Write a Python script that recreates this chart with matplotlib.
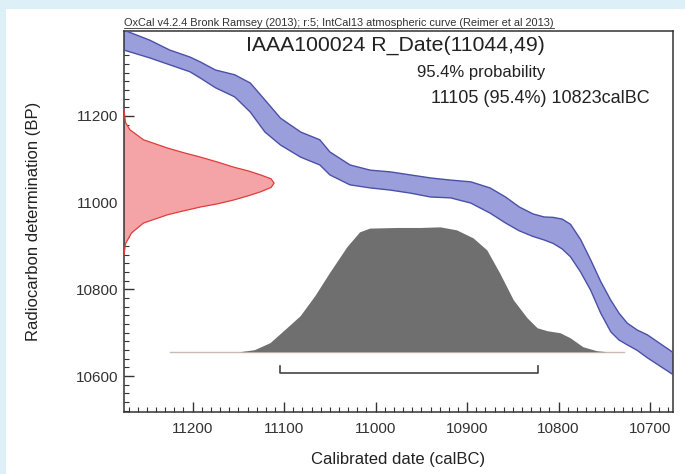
import matplotlib.pyplot as plt
from matplotlib.patches import Rectangle
from matplotlib.lines import Line2D
from matplotlib.ticker import MultipleLocator

plt.rcParams['font.family'] = ['Liberation Sans', 'DejaVu Sans']

# calibration curve (IntCal13), cal BC vs BP upper / lower edge
cal_x = [11275, 11247, 11225, 11203, 11192, 11175, 11154, 11137, 11121, 11104,
         11082, 11061, 11050, 11028, 11006, 10984, 10962, 10940, 10918, 10896,
         10875, 10858, 10843, 10828, 10816, 10806, 10796, 10787, 10776, 10765,
         10754, 10743, 10734, 10725, 10714, 10703, 10674]
cal_hi = [11398, 11375, 11352, 11336, 11325, 11306, 11295, 11276, 11237, 11195,
          11163, 11145, 11117, 11087, 11075, 11071, 11064, 11057, 11052, 11048,
          11034, 11013, 10990, 10974, 10967, 10966, 10962, 10950, 10915, 10868,
          10818, 10775, 10745, 10722, 10706, 10695, 10653]
cal_lo = [11352, 11334, 11318, 11302, 11288, 11265, 11244, 11209, 11163, 11133,
          11105, 11087, 11064, 11041, 11034, 11029, 11022, 11013, 11011, 10999,
          10976, 10953, 10935, 10922, 10914, 10906, 10893, 10875, 10840, 10798,
          10745, 10702, 10683, 10672, 10659, 10642, 10602]

# radiocarbon measurement R_Date(11044,49), relative probability
bp_vals = [11215, 11185, 11168, 11145, 11126, 11115, 11105, 11094, 11082, 11073,
           11064, 11055, 11045, 11035, 11025, 11016, 11006, 10997, 10990, 10978,
           10972, 10953, 10930, 10905, 10880]
bp_prob = [0, 0.01, 0.04, 0.13, 0.29, 0.40, 0.51, 0.62, 0.73, 0.83,
           0.91, 0.98, 1.0, 0.98, 0.91, 0.83, 0.73, 0.62, 0.51, 0.36,
           0.29, 0.13, 0.05, 0.01, 0]

# calibrated date distribution, relative probability
cal_dates = [11148, 11132, 11115, 11099, 11082, 11066, 11050, 11031, 11017, 11006,
             10976, 10951, 10929, 10911, 10893, 10878, 10864, 10849, 10834, 10823,
             10812, 10798, 10787, 10773, 10758, 10747]
cal_prob = [0, 0.016, 0.072, 0.176, 0.288, 0.448, 0.632, 0.84, 0.96, 0.99,
            0.995, 0.995, 1.0, 0.976, 0.912, 0.816, 0.632, 0.416, 0.272, 0.192,
            0.168, 0.152, 0.112, 0.04, 0.008, 0]
base_from, base_to = 11225, 10729

range95 = (11105, 10823)

fig = plt.figure(figsize=(6.85, 4.74), dpi=100)
fig.patch.set_facecolor('#ddf0f7')
fig.add_artist(Rectangle((6 / 685, 0), 1, 1 - 9 / 474, transform=fig.transFigure,
                         facecolor='white', edgecolor='none', zorder=-10))

ax = fig.add_axes([124 / 685, 1 - 412 / 474, 549 / 685, 381 / 474])
ax.set_facecolor('white')
ax.set_xlim(11275, 10675)
ax.set_ylim(10517, 11396)

# calibration curve band
ax.fill_between(cal_x, cal_lo, cal_hi, facecolor='#9a9edb', edgecolor='none', zorder=2)
ax.plot(cal_x, cal_hi, color='#4b50a8', lw=1, zorder=3)
ax.plot(cal_x, cal_lo, color='#4b50a8', lw=1, zorder=3)

# radiocarbon date on y axis
red_w = 164
red_x = [11275 - p * red_w for p in bp_prob]
ax.fill_betweenx(bp_vals, 11275, red_x, facecolor='#f4a3a6', edgecolor='none', zorder=2)
ax.plot(red_x, bp_vals, color='#e03c3c', lw=0.9, zorder=3)

# calibrated distribution
base_y = 10655
gray_h = 288
ax.plot([base_from, base_to], [base_y, base_y], color='#c9bcb6', lw=1, zorder=2)
ax.fill_between(cal_dates, base_y, [base_y + p * gray_h for p in cal_prob],
                facecolor='#6f6f6f', edgecolor='none', zorder=3)

# 95.4% range bracket
by = 10607
ax.plot([range95[0], range95[0], range95[1], range95[1]], [by + 16, by, by, by + 16],
        color='#444444', lw=1.2, zorder=3)

for s in ax.spines.values():
    s.set_color('#333333')
    s.set_linewidth(1.1)

ax.xaxis.set_major_locator(MultipleLocator(100))
ax.xaxis.set_minor_locator(MultipleLocator(10))
ax.yaxis.set_major_locator(MultipleLocator(200))
ax.yaxis.set_minor_locator(MultipleLocator(20))
ax.tick_params(which='both', direction='in', colors='#333333', labelsize=11,
               top=False, right=False)
ax.tick_params(which='major', length=7, width=1)
ax.tick_params(which='minor', length=3.5, width=0.8)
ax.tick_params(axis='x', pad=7)
ax.tick_params(axis='y', pad=4)

ax.set_xlabel('Calibrated date (calBC)', fontsize=12, color='#222222', labelpad=12)
ax.set_ylabel('Radiocarbon determination (BP)', fontsize=12, color='#222222', labelpad=25)

fig.text(0.577, 0.905, 'IAAA100024 R_Date(11044,49)', fontsize=15.3, ha='center',
         va='center', color='#222222')
fig.text(0.702, 0.848, '95.4% probability', fontsize=12, ha='center', va='center',
         color='#222222')
fig.text(0.789, 0.793, '11105 (95.4%) 10823calBC', fontsize=13, ha='center',
         va='center', color='#222222')
hdr = fig.text(124 / 685, 1 - 23.5 / 474,
               'OxCal v4.2.4 Bronk Ramsey (2013); r:5; IntCal13 atmospheric curve (Reimer et al 2013)',
               fontsize=7.9, ha='left', va='center', color='#333333')

fig.canvas.draw()
bb = hdr.get_window_extent().transformed(fig.transFigure.inverted())
fig.add_artist(Line2D([bb.x0, bb.x1], [bb.y0 + 0.001, bb.y0 + 0.001],
                      transform=fig.transFigure, color='#333333', lw=0.6))

fig.savefig('out.png', dpi=100, facecolor=fig.get_facecolor())
